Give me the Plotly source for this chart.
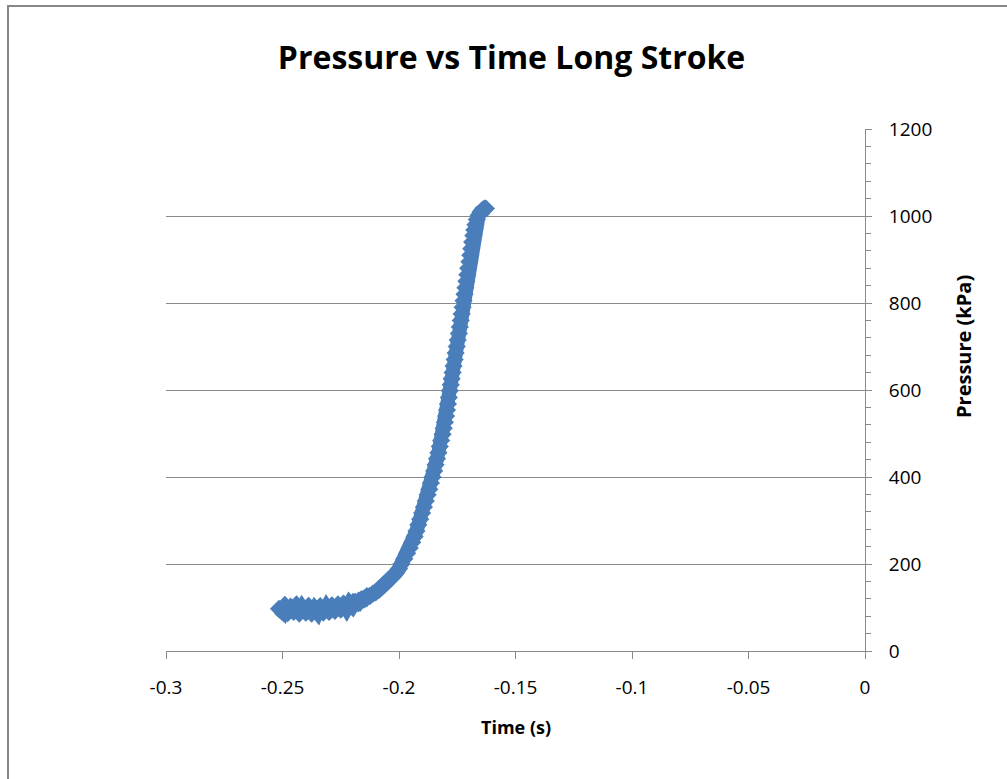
import plotly.graph_objects as go

# Low-pressure start of the stroke (s, kPa)
flat_time = [-0.2515, -0.2500, -0.2490, -0.2478, -0.2465, -0.2452, -0.2440, -0.2428,
             -0.2415, -0.2400, -0.2388, -0.2375, -0.2362, -0.2350, -0.2338, -0.2325,
             -0.2312, -0.2300, -0.2288, -0.2275, -0.2262, -0.2250, -0.2238, -0.2225,
             -0.2212, -0.2200, -0.2188, -0.2175, -0.2162, -0.2150, -0.2138, -0.2125,
             -0.2112, -0.2100, -0.2088, -0.2075, -0.2062, -0.2050, -0.2038, -0.2025,
             -0.2012, -0.2000]
flat_pressure = [97, 90, 106, 87, 102, 90, 107, 86,
                 99, 88, 104, 86, 97, 89, 103, 88,
                 100, 90, 105, 92, 107, 95, 109, 98,
                 110, 103, 113, 110, 119, 118, 126, 126,
                 132, 135, 140, 146, 152, 158, 165, 172,
                 180, 189]

# Pressure rise up to the end of the stroke (s, kPa)
rise_time = [-0.1989, -0.1977, -0.1965, -0.1954, -0.1943, -0.1933, -0.1925, -0.1917,
             -0.1909, -0.1901, -0.1893, -0.1885, -0.1877, -0.1870, -0.1863, -0.1856,
             -0.1849, -0.1843, -0.1837, -0.1831, -0.1825, -0.1819, -0.1813, -0.1808,
             -0.1803, -0.1798, -0.1794, -0.1790, -0.1786, -0.1782, -0.1778, -0.1774,
             -0.1770, -0.1766, -0.1761, -0.1757, -0.1752, -0.1748, -0.1743, -0.1739,
             -0.1735, -0.1731, -0.1727, -0.1723, -0.1719, -0.1715, -0.1711, -0.1707,
             -0.1703, -0.1698, -0.1694, -0.1690, -0.1686, -0.1681, -0.1677, -0.1672,
             -0.1666, -0.1658, -0.1650, -0.1642, -0.1634, -0.1627]
rise_pressure = [200, 212, 225, 237, 250, 263, 276, 290,
                 303, 317, 331, 345, 359, 372, 386, 400,
                 414, 428, 442, 456, 470, 484, 498, 512,
                 526, 540, 554, 568, 583, 598, 612, 626,
                 640, 655, 670, 685, 700, 715, 730, 745,
                 760, 775, 790, 805, 820, 835, 850, 865,
                 880, 895, 910, 925, 940, 955, 968, 980,
                 992, 1002, 1009, 1014, 1017, 1017]

x_ticks = [-0.3, -0.25, -0.2, -0.15, -0.1, -0.05, 0]
x_tick_text = ["-0.3", "-0.25", "-0.2", "-0.15", "-0.1", "-0.05", "0"]
y_ticks = [0, 200, 400, 600, 800, 1000, 1200]

time_s = flat_time + rise_time
pressure_kpa = flat_pressure + rise_pressure

FONT = "Open Sans"
GRID = "#8a8a8a"
BLUE = "#4A7EBB"

fig = go.Figure(
    go.Scatter(
        x=time_s,
        y=pressure_kpa,
        mode="lines+markers",
        line=dict(color=BLUE, width=14),
        marker=dict(symbol="diamond", size=14, color=BLUE, line=dict(width=0)),
        showlegend=False,
    )
)

fig.update_layout(
    width=1007,
    height=779,
    margin=dict(l=166, r=142, t=129, b=128),
    paper_bgcolor="white",
    plot_bgcolor="white",
    font=dict(family=FONT, color="#000000"),
    title=dict(
        text="<b>Pressure vs Time Long Stroke</b>",
        font=dict(family=FONT, size=32, color="#000000"),
        x=0.508, xref="container", xanchor="center",
        y=1 - 58 / 779, yref="container", yanchor="middle",
    ),
    xaxis=dict(
        range=[-0.3, 0],
        tickvals=x_ticks,
        ticktext=x_tick_text,
        showgrid=False,
        zeroline=False,
        showline=True,
        linecolor=GRID,
        linewidth=1,
        ticks="outside",
        ticklen=7,
        tickcolor=GRID,
        tickfont=dict(family=FONT, size=19),
        ticklabelstandoff=12,
    ),
    yaxis=dict(
        range=[0, 1200],
        side="right",
        tickvals=y_ticks,
        showgrid=True,
        gridcolor=GRID,
        gridwidth=1,
        zeroline=False,
        showline=True,
        linecolor=GRID,
        linewidth=1,
        ticks="outside",
        ticklen=6,
        tickcolor=GRID,
        minor=dict(ticks="outside", ticklen=5, dtick=40, tickcolor=GRID, showgrid=False),
        tickfont=dict(family=FONT, size=19),
        ticklabelstandoff=13,
    ),
    annotations=[
        dict(
            text="<b>Time (s)</b>",
            xref="paper", yref="paper",
            x=(515.5 - 166) / 699, y=(651 - 727) / 522,
            xanchor="center", yanchor="middle",
            showarrow=False,
            font=dict(family=FONT, size=18, color="#000000"),
        ),
        dict(
            text="<b>Pressure (kPa)</b>",
            xref="paper", yref="paper",
            x=(963 - 166) / 699, y=(651 - 347) / 522,
            xanchor="center", yanchor="middle",
            textangle=-90,
            showarrow=False,
            font=dict(family=FONT, size=20, color="#000000"),
        ),
    ],
    shapes=[
        dict(
            type="rect",
            xref="paper", yref="paper",
            x0=(8 - 166) / 699, x1=(1012 - 166) / 699,
            y0=(651 - 785) / 522, y1=(651 - 6) / 522,
            line=dict(color="#888888", width=2),
            fillcolor="rgba(0,0,0,0)",
            layer="below",
        )
    ],
)

fig.write_html("out.html")
